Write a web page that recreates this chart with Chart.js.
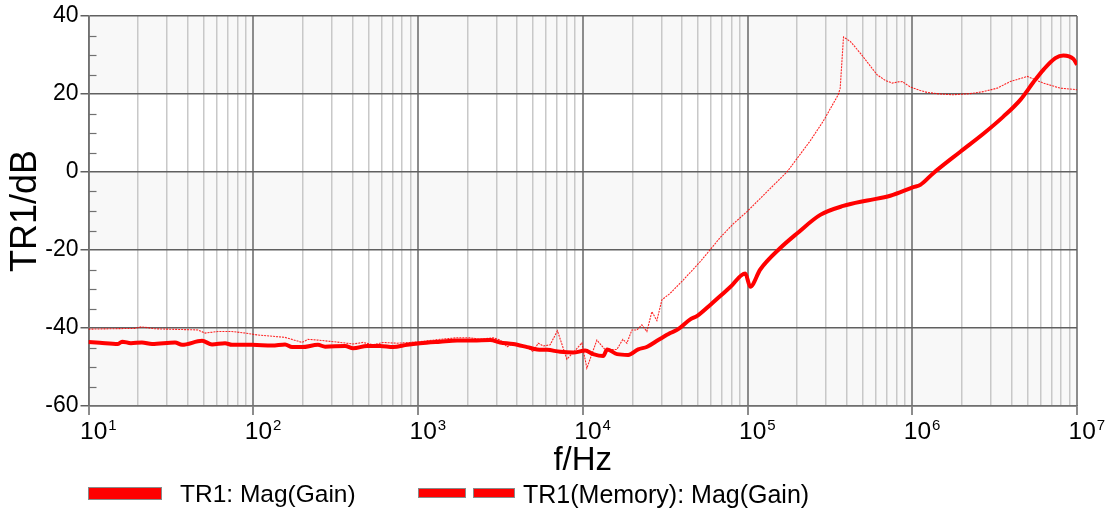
<!DOCTYPE html>
<html>
<head>
<meta charset="utf-8">
<script src="https://cdn.jsdelivr.net/npm/chart.js@4"></script>
<style>
  html, body { margin: 0; padding: 0; background: #fff; }
  #wrap { position: relative; width: 1111px; height: 508px; font-family: "Liberation Sans", Arial, sans-serif; }
  .lg-box { position: absolute; background: #ff0000; border: 1px solid #8a8a8a; box-sizing: border-box; }
  .lg-text { position: absolute; line-height: 24px; color: #000; white-space: nowrap; }
</style>
</head>
<body>
<div id="wrap">
  <canvas id="chart"></canvas>
  <div class="lg-box" style="left:88px;top:487px;width:74px;height:13px"></div>
  <div class="lg-text" style="left:180px;top:482px;font-size:24.5px">TR1: Mag(Gain)</div>
  <div class="lg-box" style="left:418px;top:488px;width:48px;height:10px"></div>
  <div class="lg-box" style="left:473px;top:488px;width:42px;height:10px"></div>
  <div class="lg-text" style="left:523px;top:482px;font-size:25px">TR1(Memory): Mag(Gain)</div>
</div>
<script>
// =====================
// DATA
// =====================

// TR1: Mag(Gain) - thick trace
const mainFreq = [
  10, 11.7, 15.1, 16.0, 18.1, 21.1, 24.3, 33.5, 37.0, 48.9, 56.2, 67.4, 74.3, 98.3,
  130, 156, 172, 198, 247, 273, 361, 404, 491, 589, 706, 859, 1030, 1362, 1728, 2161,
  2741, 3152, 3780, 4597, 5287, 6079, 7293, 8746, 10340, 11570, 13300, 14070, 16180,
  18870, 21700, 24620, 28710, 33950, 37960, 44910, 49530, 59390, 68310, 78580, 96890,
  103900, 119500, 158100, 200500, 276500, 381400, 533500, 735900, 1015000, 1119000,
  1342000, 1958000, 2701000, 3572000, 4529000, 5433000, 6247000, 7388000, 8264000,
  9502000, 10000000
];
const mainGain = [
  -43.6, -43.8, -44.1, -43.5, -43.9, -43.7, -44.1, -43.7, -44.3, -43.3, -44.2, -43.9, -44.3, -44.3,
  -44.5, -44.2, -44.9, -44.9, -44.3, -44.8, -44.6, -45.2, -44.6, -44.6, -44.9, -44.3, -43.9, -43.5, -43.2, -43.2,
  -43.1, -43.7, -44.1, -44.9, -45.5, -45.6, -46.1, -46.3, -45.8, -46.7, -47.2, -45.5, -46.7,
  -46.9, -45.5, -44.8, -43.1, -41.3, -40.3, -37.8, -36.9, -34.1, -31.8, -29.5, -26.0,
  -29.4, -25.0, -19.5, -15.7, -11.0, -8.7, -7.3, -6.1, -3.9, -3.3,
  -0.3, 5.2, 9.8, 14.2, 18.5, 23.0, 26.2, 29.2, 29.9,
  29.0, 27.5
];

// TR1(Memory): Mag(Gain) - thin trace
const memFreq = [
  10, 13.5, 19.2, 21.0, 25.3, 30.4, 46.2, 51.0, 61.1, 74.3, 89.2, 107, 156, 198, 215, 247,
  337, 404, 464, 534, 614, 747, 895, 1030, 1362, 1728, 2072, 2383, 2858, 3152, 3475, 3780,
  4597, 4998, 5362, 5750, 6340, 7022, 8006, 9120, 9876, 10590, 12180, 13680, 16110, 17520,
  18530, 19870, 21300, 22850, 24510, 26280, 28180, 30220, 33950, 40710, 51640, 68310, 81900,
  99600, 174300, 240400, 288000, 355300, 365300, 382600, 420300, 483400, 579800, 613100,
  685500, 755700, 822200, 869500, 972500, 1118000, 1233000, 1479000, 1774000, 2250000,
  2699000, 3282000, 3936000, 4993000, 6244000, 7917000, 10000000
];
const memGain = [
  -40.3, -40.2, -40.1, -39.7, -40.2, -40.3, -40.5, -41.3, -40.9, -40.9, -41.3, -41.8, -42.4, -43.7, -42.9, -43.1,
  -43.7, -44.1, -43.7, -44.3, -43.7, -43.9, -43.7, -43.5, -42.9, -42.5, -42.5, -42.9, -42.5, -43.1, -44.8, -43.9,
  -44.8, -46.1, -43.9, -44.6, -44.3, -40.7, -48.0, -45.5, -43.8, -50.3, -43.1, -45.6, -45.5, -42.9,
  -43.9, -40.5, -40.5, -39.2, -40.9, -35.8, -38.1, -32.8, -31.1, -27.7, -23.0, -16.8, -13.3,
  -10.1, 0.1, 8.0, 13.0, 19.8, 21.5, 34.6, 33.5, 30.5, 26.2, 24.9,
  23.5, 22.8, 23.1, 23.2, 21.8, 20.9, 20.4, 20.0, 19.8, 20.1,
  20.6, 21.5, 23.2, 24.5, 22.8, 21.5, 21.1
];

// x tick labels: "10" with a raised exponent
const decades = [10, 100, 1000, 10000, 100000, 1000000, 10000000];
const decadeBase = "10";
const decadeExps = ["1", "2", "3", "4", "5", "6", "7"];
const yLabelStep = 20;
const yMinorStep = 5;


// =====================
// STYLE / PLUGINS
// =====================

const FONT = '"Liberation Sans", Arial, sans-serif';
const grayBands = [[20, 40], [-20, 0], [-60, -40]];

const isDecade = v => decades.includes(v);

const bandsPlugin = {
  id: "bands",
  beforeDraw(chart) {
    const { ctx, chartArea, scales: { y } } = chart;
    ctx.save();
    ctx.fillStyle = "#f8f8f8";
    grayBands.forEach(([lo, hi]) => {
      const top = y.getPixelForValue(hi);
      const bottom = y.getPixelForValue(lo);
      ctx.fillRect(chartArea.left, top, chartArea.right - chartArea.left, bottom - top);
    });
    ctx.restore();
  }
};

// short inner ticks every 5 dB on the left edge
const minorTicksPlugin = {
  id: "minorTicks",
  beforeDatasetsDraw(chart) {
    const { ctx, chartArea, scales: { y } } = chart;
    ctx.save();
    ctx.strokeStyle = "#707070";
    ctx.lineWidth = 1.2;
    for (let v = y.min; v <= y.max; v += yMinorStep) {
      if (v % yLabelStep === 0) continue;
      const py = Math.round(y.getPixelForValue(v)) + 0.5;
      ctx.beginPath();
      ctx.moveTo(chartArea.left, py);
      ctx.lineTo(chartArea.left + 8, py);
      ctx.stroke();
    }
    ctx.restore();
  }
};

// decade labels with superscript exponent, placed from the x scale
const decadeLabelsPlugin = {
  id: "decadeLabels",
  afterDraw(chart) {
    const { ctx, chartArea, scales: { x } } = chart;
    const base = chartArea.bottom + 33;
    ctx.save();
    ctx.fillStyle = "#000";
    ctx.textBaseline = "alphabetic";
    ctx.textAlign = "left";
    decades.forEach((d, i) => {
      const left = x.getPixelForValue(d) - 8.5;
      ctx.font = `24.5px ${FONT}`;
      ctx.fillText(decadeBase, left, base);
      const w = ctx.measureText(decadeBase).width;
      ctx.font = `15px ${FONT}`;
      ctx.fillText(decadeExps[i], left + w + 1, base - 9);
    });
    ctx.restore();
  }
};


// =====================
// CHART
// =====================

const toPoints = (xs, ys) => xs.map((x, i) => ({ x, y: ys[i] }));

new Chart(document.getElementById("chart"), {
  type: "line",
  data: {
    datasets: [
      {
        label: "TR1: Mag(Gain)",
        data: toPoints(mainFreq, mainGain),
        borderColor: "#ff0000",
        borderWidth: 4,
        borderJoinStyle: "round",
        cubicInterpolationMode: "monotone",
        pointRadius: 0,
        order: 0
      },
      {
        label: "TR1(Memory): Mag(Gain)",
        data: toPoints(memFreq, memGain),
        borderColor: "rgba(255,0,0,0.85)",
        borderWidth: 1.1,
        borderDash: [2, 1],
        pointRadius: 0,
        tension: 0,
        order: 1
      }
    ]
  },
  options: {
    responsive: true,
    maintainAspectRatio: false,
    animation: false,
    layout: { padding: { top: 16, right: 34, left: 0, bottom: 0 } },
    plugins: { legend: { display: false }, tooltip: { enabled: false } },
    scales: {
      x: {
        type: "logarithmic",
        min: 10,
        max: 10000000,
        afterFit: s => { s.height = 102; },
        afterBuildTicks: s => {
          const ticks = [];
          for (let e = 1; e < 7; e++) {
            for (let m = 1; m < 10; m++) ticks.push({ value: m * Math.pow(10, e) });
          }
          ticks.push({ value: 10000000 });
          s.ticks = ticks;
        },
        ticks: {
          autoSkip: false,
          maxRotation: 0,
          callback: () => ""
        },
        grid: {
          color: c => isDecade(c.tick.value) ? "#8c8c8c" : "#c8c8c8",
          lineWidth: c => isDecade(c.tick.value) ? 2 : 1.5,
          tickColor: c => isDecade(c.tick.value) ? "#8c8c8c" : "rgba(0,0,0,0)",
          tickLength: 9
        },
        border: { color: "#707070", width: 1.5 },
        title: {
          display: true,
          text: "f/Hz",
          color: "#000",
          font: { family: FONT, size: 33 },
          padding: { top: 0, bottom: 27 }
        }
      },
      y: {
        min: -60,
        max: 40,
        afterFit: s => { s.width = 88.5; },
        ticks: {
          stepSize: yMinorStep,
          autoSkip: false,
          padding: 2,
          color: "#000",
          font: { family: FONT, size: 23 },
          callback: v => v % yLabelStep === 0 ? String(v) : ""
        },
        grid: {
          color: c => c.tick.value % yLabelStep === 0 ? "#606060" : "rgba(0,0,0,0)",
          lineWidth: 1.5,
          tickColor: c => c.tick.value % yLabelStep === 0 ? "#606060" : "rgba(0,0,0,0)",
          tickLength: 8
        },
        border: { color: "#707070", width: 1.5 },
        title: {
          display: true,
          text: "TR1/dB",
          color: "#000",
          font: { family: FONT, size: 36 },
          padding: { top: 4, bottom: 0 }
        }
      }
    }
  },
  plugins: [bandsPlugin, minorTicksPlugin, decadeLabelsPlugin]
});
</script>
</body>
</html>
